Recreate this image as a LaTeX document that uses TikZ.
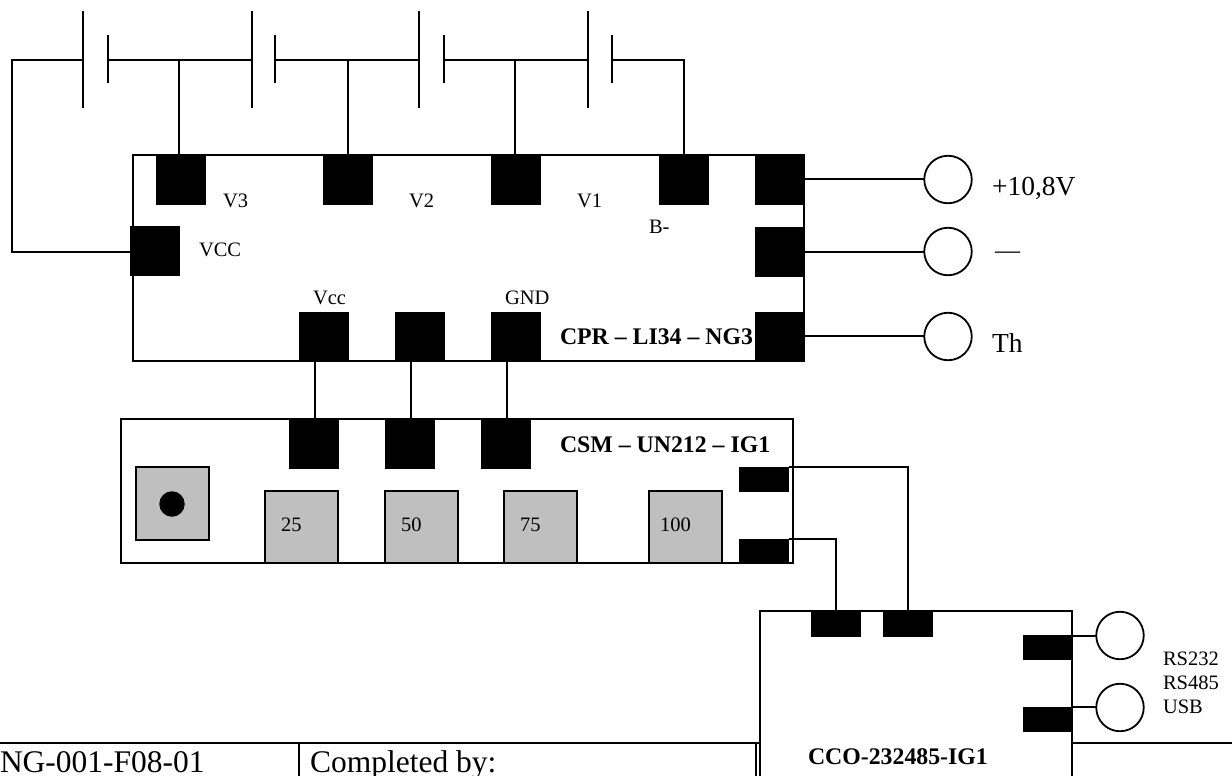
\documentclass[tikz,border=0pt]{standalone}
\usepackage{fontspec}
\setmainfont{Liberation Serif}
\tikzset{
  pad/.style={fill=black,draw=none,minimum width=50pt,minimum height=50pt,inner sep=0pt,outer sep=0pt},
  padw/.style={fill=black,draw=none,minimum width=50pt,minimum height=25.5pt,inner sep=0pt,outer sep=0pt},
  term/.style={circle,draw=black,line width=1.8pt,fill=white,minimum size=47.5pt,inner sep=0pt,outer sep=0pt},
  gbox/.style={draw=black,line width=1.8pt,fill=black!25,minimum width=73pt,minimum height=72pt,inner sep=0pt,outer sep=0pt},
  txt/.style={inner sep=0pt,outer sep=0pt,anchor=base west,font=\fontsize{20.5}{23}\selectfont},
  txtb/.style={inner sep=0pt,outer sep=0pt,anchor=base west,font=\fontsize{23.8}{26}\selectfont\bfseries},
  txtl/.style={inner sep=0pt,outer sep=0pt,anchor=base west,font=\fontsize{27.5}{30}\selectfont},
  txtt/.style={inner sep=0pt,outer sep=0pt,anchor=base west,font=\fontsize{31.5}{34}\selectfont},
  wire/.style={draw=black,line width=1.8pt},
  rule/.style={draw=black,line width=2.2pt}
}
\begin{document}
\begin{tikzpicture}[x=1pt,y=-1pt]
\useasboundingbox (0,0) rectangle (1232,776);
% main boxes
\node[draw=black,line width=1.8pt,minimum width=671pt,minimum height=206pt,inner sep=0pt,outer sep=0pt] (cpr) at (468.5,258) {};
\node[draw=black,line width=1.8pt,minimum width=672pt,minimum height=144pt,inner sep=0pt,outer sep=0pt] (csm) at (457,491) {};
\path[wire] (760,777) -- (760,611) -- (1072,611) -- (1072,777);
% table rules
\draw[rule] (0,743) -- (760,743);
\draw[rule] (1073,743) -- (1232,743);
\draw[wire] (299,743) -- (299,777);
\draw[wire] (756,743) -- (756,777);
% battery cells
\foreach \n/\x/\y in {a/83/108,b/252/275,c/419/444,d/588/612}{
  \draw[wire] (\x,11) -- (\x,108);
  \draw[wire] (\y,35) -- (\y,83);
  \coordinate (\n l) at (\x,60);
  \coordinate (\n r) at (\y,60);
}
% pads on CPR
\node[pad] (v3) at (181,179.5) {};
\node[pad] (v2) at (347.5,179.5) {};
\node[pad] (v1) at (516,179.5) {};
\node[pad] (bm) at (683.5,179.5) {};
\node[pad] (pp) at (780,179.5) {};
\node[pad] (pm) at (780,251.5) {};
\node[pad] (pt) at (780,336.5) {};
\node[pad] (vcc) at (155,251) {};
\node[pad] (b1) at (324,336.5) {};
\node[pad] (b2) at (420,336.5) {};
\node[pad] (b3) at (516,336.5) {};
% pads on CSM
\node[pad] (c1) at (313.5,443.5) {};
\node[pad] (c2) at (409.5,443.5) {};
\node[pad] (c3) at (505.5,443.5) {};
\node[padw] (o1) at (764,479.5) {};
\node[padw] (o2) at (764,551.5) {};
% pads on CCO
\node[padw] (i1) at (836,624) {};
\node[padw] (i2) at (908,624) {};
\node[padw] (r1) at (1048,647.5) {};
\node[padw] (r2) at (1048,719.5) {};
% terminals
\node[term] (t1) at (948,179.5) {};
\node[term] (t2) at (948,251.5) {};
\node[term] (t3) at (948,336.5) {};
\node[term] (t4) at (1120,635.5) {};
\node[term] (t5) at (1120,707.5) {};
% gray boxes
\node[gbox,minimum height=73pt] (g0) at (172.5,503.5) {};
\node[circle,fill=black,minimum size=25.5pt,inner sep=0pt] (dot) at (172,504) {};
\node[gbox] (g1) at (301.5,527) {};
\node[gbox] (g2) at (421.5,527) {};
\node[gbox] (g3) at (540.5,527) {};
\node[gbox] (g4) at (685.5,527) {};
% wires
\draw[wire] (al) -- (12,60) -- (12,252) -- (vcc.west|-0,252);
\draw[wire] (ar) -- (bl);
\draw[wire] (br) -- (cl);
\draw[wire] (cr) -- (dl);
\draw[wire] (dr) -- (684,60) -- (684,155);
\draw[wire] (179,60) -- (179,155);
\draw[wire] (348,60) -- (348,155);
\draw[wire] (515,60) -- (515,155);
\draw[wire] (pp.east|-0,179) -- (t1.west|-0,179);
\draw[wire] (pm.east|-0,252) -- (t2.west|-0,252);
\draw[wire] (pt.east|-0,336) -- (t3.west|-0,336);
\draw[wire] (315,361) -- (315,419);
\draw[wire] (411,361) -- (411,419);
\draw[wire] (507,361) -- (507,419);
\draw[wire] (o1.east|-0,467) -- (908,467) -- (i2.north);
\draw[wire] (o2.east|-0,539) -- (836,539) -- (i1.north);
\draw[wire] (r1.east|-0,636) -- (t4.west|-0,636);
\draw[wire] (r2.east|-0,707) -- (t5.west|-0,707);
% text
\node[txt] (l1) at (223,207) {V3};
\node[txt] (l2) at (409,207) {V2};
\node[txt] (l3) at (577,207) {V1};
\node[txt] (l4) at (649,233) {B-};
\node[txt] (l5) at (199,256) {VCC};
\node[txt] (l6) at (313,304) {Vcc};
\node[txt] (l7) at (505,304) {GND};
\node[txt] (n1) at (281,531) {25};
\node[txt] (n2) at (401,531) {50};
\node[txt] (n3) at (520,531) {75};
\node[txt] (n4) at (660,531) {100};
\node[txtb] (cprl) at (560,344) {CPR – LI34 – NG3};
\node[txtb] (csml) at (560,452) {CSM – UN212 – IG1};
\node[txtb] (ccol) at (808,764) {CCO-232485-IG1};
\node[txtl] (v) at (992,195) {+10,8V};
\node[txtl,font=\fontsize{25}{27}\selectfont] (m) at (995,258) {—};
\node[txtl] (th) at (992,352) {Th};
\node[txt] (r) at (1163,665) {RS232};
\node[txt] (s) at (1163,689) {RS485};
\node[txt] (u) at (1163,713) {USB};
\node[txtt] (ng) at (0,772) {NG-001-F08-01};
\node[txtt] (co) at (310,772) {Completed by:};
\end{tikzpicture}
\end{document}
